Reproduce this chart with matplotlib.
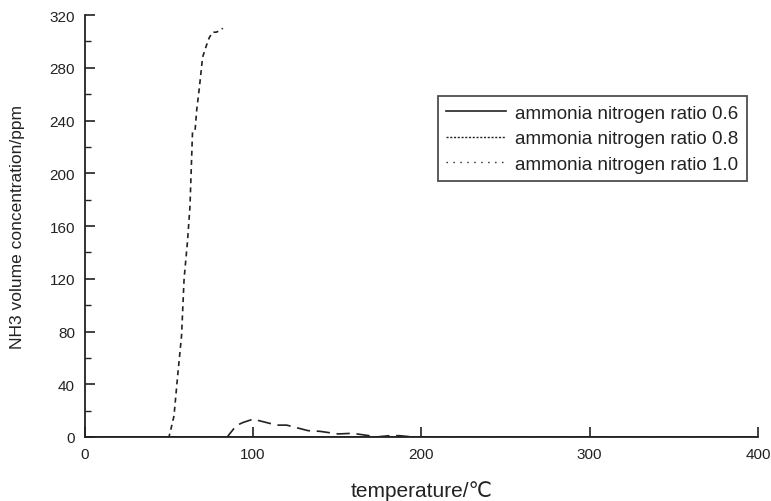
import matplotlib
matplotlib.use("Agg")
import matplotlib.pyplot as plt
from matplotlib.ticker import MultipleLocator
from matplotlib.lines import Line2D

plt.rcParams['font.family'] = ['Liberation Sans', 'DejaVu Sans']

# ratio 0.6: flat at zero
x06 = [0, 50, 100, 150, 200, 250, 300, 350, 400]
y06 = [0, 0, 0, 0, 0, 0, 0, 0, 0]

# ratio 0.8: steep rise
x08 = [0, 50, 51, 53, 55, 57.5, 59, 61, 62.5, 64, 65.5, 66.5, 68, 70, 72, 74, 76, 78, 80, 82]
y08 = [0, 0, 5, 16, 44, 77, 120, 148, 175, 231, 232, 248, 264, 288, 296, 303, 307, 307, 308, 310]

# ratio 1.0: small bump
x10 = [0, 84.6, 90, 94, 100, 106, 114, 120, 132.7, 139.7, 150.6, 159, 169, 173, 181, 187, 195, 250, 300, 350, 400]
y10 = [0, 0, 8.6, 11, 13.5, 11.6, 9, 9, 4.8, 4.3, 2.3, 2.8, 1, 0, 1, 1, 0, 0, 0, 0, 0]

labels = ['ammonia nitrogen ratio 0.6', 'ammonia nitrogen ratio 0.8', 'ammonia nitrogen ratio 1.0']

fig = plt.figure(figsize=(7.71, 5.02), dpi=100)
ax = fig.add_axes([0.110, 0.1275, 0.873, 0.8405])

c = '#222222'
ax.plot(x06, y06, color=c, lw=1.2, ls='-')
ax.plot(x08, y08, color=c, lw=1.2, ls=(0, (3, 2.5)))
ax.plot(x10, y10, color=c, lw=1.2, ls=(0, (8, 4)))

ax.set_xlim(0, 400)
ax.set_ylim(0, 320)
ax.xaxis.set_major_locator(MultipleLocator(100))
ax.yaxis.set_major_locator(MultipleLocator(40))
ax.yaxis.set_minor_locator(MultipleLocator(20))
ax.spines['top'].set_visible(False)
ax.spines['right'].set_visible(False)
for s in ('left', 'bottom'):
    ax.spines[s].set_linewidth(1.3)
    ax.spines[s].set_color(c)
ax.tick_params(axis='both', which='major', direction='in', length=7, width=1.2, labelsize=11, colors=c, pad=7)
ax.tick_params(axis='y', which='minor', direction='in', length=4, width=1.0, colors=c)

ax.set_xlabel('temperature/℃', fontsize=15, color=c, labelpad=14)
ax.set_ylabel('NH3 volume concentration/ppm', fontsize=12.5, color=c, labelpad=18)

handles = [
    Line2D([], [], color=c, lw=1.2, ls='-'),
    Line2D([], [], color=c, lw=1.0, ls=(0, (1.5, 1.2))),
    Line2D([], [], color=c, lw=1.0, ls=(0, (1, 4))),
]
leg = ax.legend(handles, labels, loc='upper left', bbox_to_anchor=(0.524, 0.808), fontsize=13.5, frameon=True,
                fancybox=False, edgecolor=c, handlelength=3.2, handletextpad=0.5,
                borderpad=0.45, labelspacing=0.45, borderaxespad=0)
leg.get_frame().set_linewidth(1.3)
for t in leg.get_texts():
    t.set_color(c)

fig.savefig('out.png', dpi=100)
